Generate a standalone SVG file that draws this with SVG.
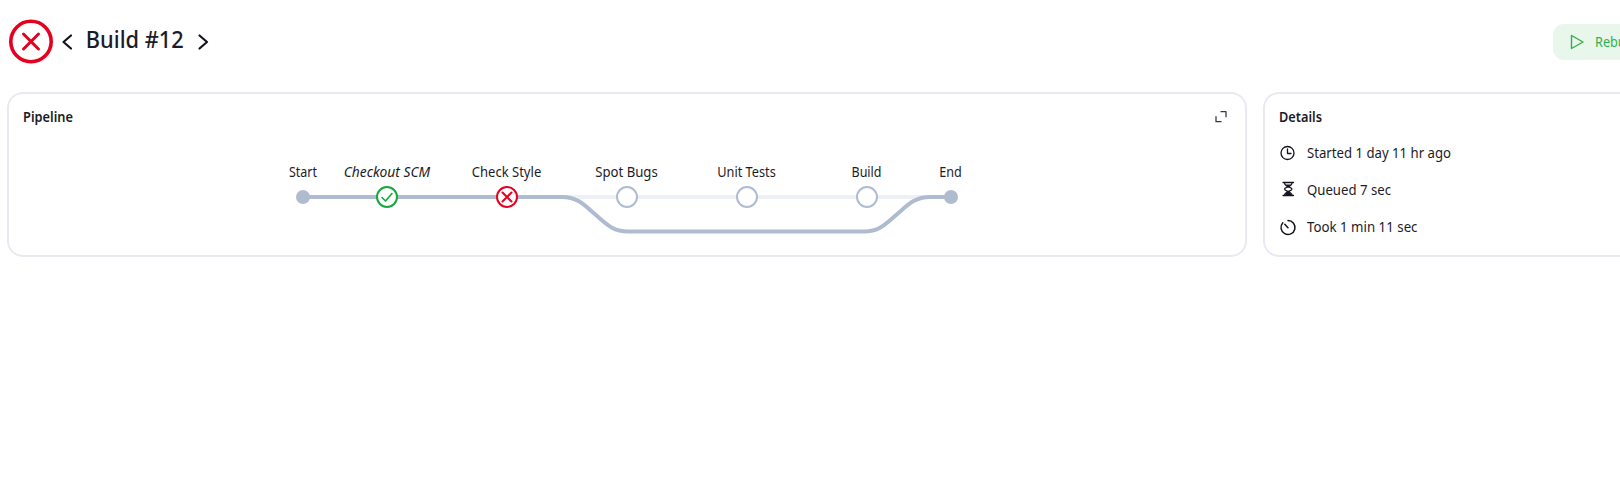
<svg xmlns="http://www.w3.org/2000/svg" width="1620" height="500" viewBox="0 0 1620 500">
<style>
text{font-family:"Noto Sans","Open Sans","Liberation Sans",sans-serif;fill:#1c1c28;font-size:13.5px}
.lab{text-anchor:middle}
.title{font-weight:600}
.card{fill:#fff;stroke:#e9e9f1;stroke-width:2}
.ic{fill:none;stroke:#14141f;stroke-width:1.300;stroke-linecap:round;stroke-linejoin:round}
.trk{fill:none;stroke:#edf0f4;stroke-width:4}
.act{fill:none;stroke:#afbccf;stroke-width:4}
.n{fill:#fff;stroke:#afbccf;stroke-width:2}
.dot{fill:#afbccf}
.red{fill:#fff;stroke:#e6001f;stroke-width:2}
.redx{fill:none;stroke:#e6001f;stroke-width:2;stroke-linecap:round}
.grn{fill:#fff;stroke:#14a83f;stroke-width:2}
.grnc{fill:none;stroke:#14a83f;stroke-width:1.600;stroke-linecap:round;stroke-linejoin:round}
</style>
<rect width="1620" height="500" fill="#fff"/>
<g id="header">
<circle cx="31" cy="41.500" r="20.200" fill="#fff" stroke="#e6001f" stroke-width="3.600"/>
<path d="M23.500 34L38.500 49M38.500 34L23.500 49" fill="none" stroke="#e6001f" stroke-width="3" stroke-linecap="round"/>
<path d="M71 35.500L63.500 42L71 48.500" fill="none" stroke="#14141f" stroke-width="2.200" stroke-linecap="round" stroke-linejoin="round"/>
<text x="85.800" y="48" textLength="98" lengthAdjust="spacingAndGlyphs" style="font-size:24px;font-weight:500">Build #12</text>
<path d="M199.500 35.500L207 42L199.500 48.500" fill="none" stroke="#14141f" stroke-width="2.200" stroke-linecap="round" stroke-linejoin="round"/>
</g>
<g id="rebuild">
<rect x="1553" y="24" width="90" height="36" rx="11" fill="#e9f6ec"/>
<path d="M1571.500 35.500L1583 42L1571.500 48.500Z" fill="none" stroke="#2eb050" stroke-width="1.400" stroke-linejoin="round"/>
<text x="1595" y="47" textLength="45" lengthAdjust="spacingAndGlyphs" style="fill:#2eb050">Rebuild</text>
</g>
<g id="pipeline-card">
<rect class="card" x="8" y="93" width="1238" height="163" rx="15"/>
<text class="title" x="23" y="122" textLength="50" lengthAdjust="spacingAndGlyphs">Pipeline</text>
<path class="ic" style="stroke:#3a3a46" d="M1216 116.700v5h5M1221 111.700h5v5"/>
</g>
<g id="details-card">
<rect class="card" x="1264" y="93" width="400" height="163" rx="15"/>
<text class="title" x="1279" y="122" textLength="43" lengthAdjust="spacingAndGlyphs">Details</text>
<circle class="ic" cx="1287.500" cy="153" r="6.500"/>
<path class="ic" d="M1287.500 149V153.500H1291"/>
<text x="1307" y="158" textLength="144" lengthAdjust="spacingAndGlyphs">Started 1 day 11 hr ago</text>
<path class="ic" d="M1283 182.500H1293.500M1283 195.500H1293.500M1284.500 183C1284.500 187 1292 187 1292 189C1292 191 1284.500 192 1284.500 195M1292 183C1292 187 1284.500 187 1284.500 189C1284.500 191 1292 192 1292 195"/>
<path d="M1285 195L1288.200 190.500L1291.500 195Z" fill="#14141f"/>
<path d="M1285.500 184.500H1291L1288.200 187Z" fill="#14141f"/>
<text x="1307" y="195" textLength="84" lengthAdjust="spacingAndGlyphs">Queued 7 sec</text>
<path class="ic" style="stroke-width:1.500" d="M1288 220.500A7 7 0 1 1 1282.800 222.800M1284.800 224.300L1288 227.800"/>
<text x="1307" y="232" textLength="110.500" lengthAdjust="spacingAndGlyphs">Took 1 min 11 sec</text>
</g>
<g id="connectors">
<path class="trk" d="M507 197H951"/>
<path class="act" d="M303 197H562C578 197 585 205.750 595 214.250C605 222.750 612 231.500 628 231.500H864C880 231.500 887 222.750 897 214.250C907 205.750 914 197 930 197H951"/>
</g>
<g id="node-start"><circle class="dot" cx="303" cy="197" r="7"/><text class="lab" x="303" y="177" textLength="28" lengthAdjust="spacingAndGlyphs">Start</text></g>
<g id="node-checkout"><circle class="grn" cx="387" cy="197" r="10"/><path class="grnc" d="M382 197.500L385.500 201L392 193.500"/><text class="lab" x="387" y="177" font-style="italic" textLength="86.500" lengthAdjust="spacingAndGlyphs">Checkout SCM</text></g>
<g id="node-checkstyle"><circle class="red" cx="507" cy="197" r="10"/><path class="redx" d="M502.500 192.500L511.500 201.500M511.500 192.500L502.500 201.500"/><text class="lab" x="506.500" y="177" textLength="69.500" lengthAdjust="spacingAndGlyphs">Check Style</text></g>
<g id="node-spotbugs"><circle class="n" cx="627" cy="197" r="10"/><text class="lab" x="626.500" y="177" textLength="62.500" lengthAdjust="spacingAndGlyphs">Spot Bugs</text></g>
<g id="node-unittests"><circle class="n" cx="747" cy="197" r="10"/><text class="lab" x="746.500" y="177" textLength="58.500" lengthAdjust="spacingAndGlyphs">Unit Tests</text></g>
<g id="node-build"><circle class="n" cx="867" cy="197" r="10"/><text class="lab" x="866.500" y="177" textLength="30" lengthAdjust="spacingAndGlyphs">Build</text></g>
<g id="node-end"><circle class="dot" cx="951" cy="197" r="7"/><text class="lab" x="950.500" y="177" textLength="22.500" lengthAdjust="spacingAndGlyphs">End</text></g>
</svg>
